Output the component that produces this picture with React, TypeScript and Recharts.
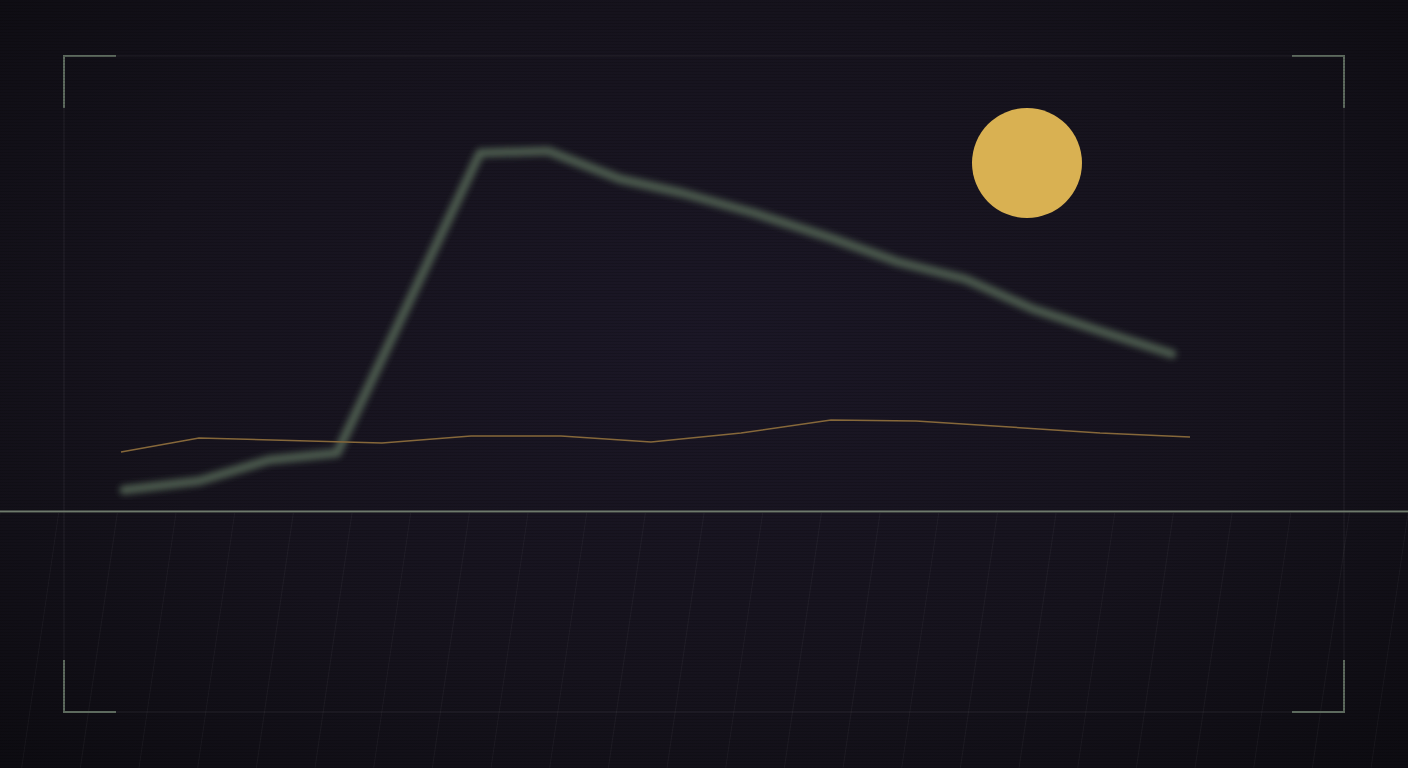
import React from 'react';
import { LineChart, Line, XAxis, YAxis, ReferenceDot } from 'recharts';

// ridge (thick blurred line) — x positions on a 0..107 track, values 0..100
const ridgeX = [0.4, 7.9, 14.9, 21.7, 36, 42.8, 50, 56.2, 63.4, 71.1, 77.8, 84.5, 91.3, 98, 105.2];
const ridgeY = [5.25, 7.5, 12.75, 14.5, 89.5, 90, 83, 79.5, 74.5, 68.25, 62.25, 58, 50.5, 45, 39.25];

// path (thin amber line)
const pathX = [0.1, 7.9, 26.2, 35.1, 44.1, 53.1, 62.1, 71.1, 79.6, 89, 98, 107];
const pathY = [14.75, 18.25, 17, 18.75, 18.75, 17.25, 19.5, 22.75, 22.5, 21, 19.5, 18.5];

// moon
const moonX = 90.7;
const moonY = 87;

const W = 1408;
const H = 768;

const ridgeData = ridgeX.map((x, i) => ({ x, v: ridgeY[i] }));
const pathData = pathX.map((x, i) => ({ x, v: pathY[i] }));

const Backdrop: React.FC = () => {
  const rain = Array.from({ length: 26 }, (_, k) => k * 58.67);
  const bracket = '#5d6a5e';
  return (
    <svg width={W} height={H} style={{ position: 'absolute', left: 0, top: 0 }}>
      <defs>
        <filter id="ridgeBlur" x="-10%" y="-10%" width="120%" height="120%">
          <feGaussianBlur stdDeviation="3" />
        </filter>
      </defs>
      {rain.map((x) => (
        <line key={x} x1={x} y1={513} x2={x - 37} y2={768} stroke="rgba(255,255,255,0.045)" strokeWidth={1} />
      ))}
      <rect x={64} y={56} width={1280} height={656} fill="none" stroke="rgba(255,255,255,0.05)" strokeWidth={1.5} />
      <g stroke={bracket} strokeWidth={2} fill="none">
        <polyline points="64,108 64,56 116,56" />
        <polyline points="1292,56 1344,56 1344,108" />
        <polyline points="64,660 64,712 116,712" />
        <polyline points="1292,712 1344,712 1344,660" />
      </g>
      <line x1={0} y1={511.5} x2={W} y2={511.5} stroke="#6e7a6c" strokeWidth={2} />
    </svg>
  );
};

const App: React.FC = () => {
  return (
    <div
      style={{
        position: 'fixed',
        left: 0,
        top: 0,
        width: W,
        height: H,
        overflow: 'hidden',
        background: 'radial-gradient(ellipse 75% 80% at 50% 45%, #1b1726 0%, #16131d 55%, #0c0b10 100%)',
      }}
    >
      <Backdrop />
      <div
        style={{
          position: 'absolute',
          inset: 0,
          background: 'repeating-linear-gradient(0deg, rgba(0,0,0,0.14) 0px, rgba(0,0,0,0.14) 1px, transparent 1px, transparent 3px)',
          pointerEvents: 'none',
        }}
      />
      <div style={{ position: 'absolute', left: 0, top: 0 }}>
        <LineChart width={W} height={H} margin={{ top: 111, right: 218, bottom: 257, left: 120 }}>
          <XAxis type="number" dataKey="x" domain={[0, 107]} hide />
          <YAxis type="number" domain={[0, 100]} hide />
          <Line
            data={ridgeData}
            dataKey="v"
            type="linear"
            stroke="#4b5a4d"
            strokeWidth={9}
            strokeLinecap="round"
            strokeLinejoin="round"
            dot={false}
            activeDot={false}
            filter="url(#ridgeBlur)"
            isAnimationActive={false}
          />
          <Line
            data={pathData}
            dataKey="v"
            type="linear"
            stroke="#86683a"
            strokeWidth={1.5}
            dot={false}
            activeDot={false}
            isAnimationActive={false}
          />
          <ReferenceDot x={moonX} y={moonY} r={55} fill="#d9b152" stroke="none" ifOverflow="visible" />
        </LineChart>
      </div>
    </div>
  );
};

export default App;
